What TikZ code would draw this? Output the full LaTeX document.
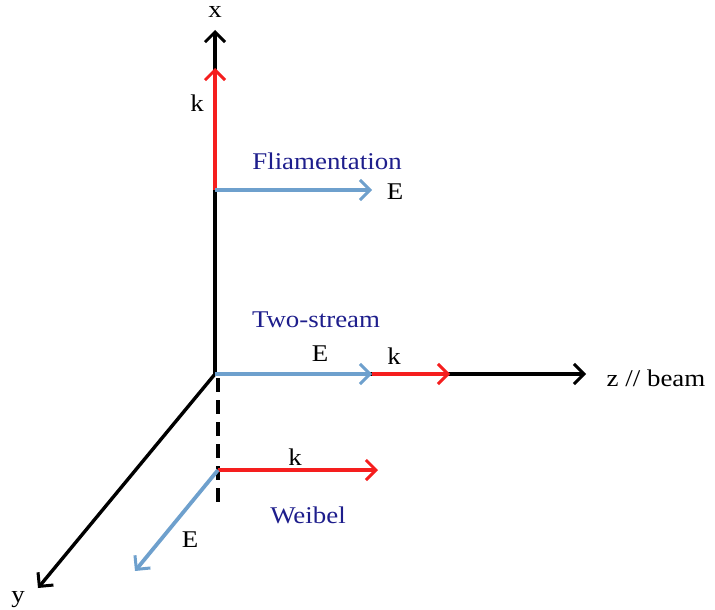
\documentclass[tikz,border=0pt]{standalone}
\usepackage{fontspec}
\setmainfont[FakeStretch=1.12]{Liberation Serif}
\usetikzlibrary{arrows.meta}
\definecolor{kred}{RGB}{245,30,30}
\definecolor{eblue}{RGB}{110,160,205}
\definecolor{lblue}{RGB}{30,30,140}
\tikzset{
  tip/.style={-{Straight Barb[length=10pt,width=20pt,line width=3pt]}},
  axis/.style={line width=3.4pt,black,tip},
  kvec/.style={line width=3.8pt,kred,tip},
  evec/.style={line width=3.8pt,eblue,tip},
  lab/.style={font=\fontsize{24}{28}\selectfont,text=black,inner sep=0pt},
  mode/.style={font=\fontsize{24}{28}\selectfont,text=lblue,inner sep=0pt},
}
\begin{document}
\begin{tikzpicture}[x=1pt,y=-1pt]
\useasboundingbox (0,0) rectangle (715,610);
% coordinates
\coordinate (O) at (215,374);
\coordinate (xtip) at (215,30);
\coordinate (ztip) at (586,374);
\coordinate (ytip) at (38,588);
\coordinate (F) at (215,190);
\coordinate (Fk) at (215,68);
\coordinate (Fe) at (372,190);
\coordinate (Te) at (372,374);
\coordinate (Tk) at (450,374);
\coordinate (Dtop) at (218,378);
\coordinate (Dbot) at (218,503);
\coordinate (W) at (218,470);
\coordinate (Wk) at (378,470);
\coordinate (We) at (135,571);
% axes
\draw[axis] (O) -- (xtip);
\draw[axis] (O) -- (ztip);
\draw[axis] (O) -- (ytip);
\draw[line width=3.6pt,dash pattern=on 14pt off 8pt] (Dtop) -- (Dbot);
% vectors
\draw[kvec] (F) -- (Fk);
\draw[evec] (F) -- (Fe);
\draw[evec] (O) -- (Te);
\draw[kvec] (Te) -- (Tk);
\draw[kvec] (W) -- (Wk);
\draw[evec] (W) -- (We);
% labels
\node[lab] (lx) at (215,12) {x};
\node[lab] (lz) at (656,378) {z // beam};
\node[lab] (ly) at (18,600) {y};
\node[lab] (lFk) at (197,103) {k};
\node[lab] (lFe) at (395,192) {E};
\node[mode] (lF) at (327,161) {Fliamentation};
\node[mode] (lT) at (316,320) {Two-stream};
\node[lab] (lTe) at (320,354) {E};
\node[lab] (lTk) at (394,356) {k};
\node[lab] (lWk) at (295,457) {k};
\node[mode] (lW) at (308,515) {Weibel};
\node[lab] (lWe) at (190,540) {E};
\end{tikzpicture}
\end{document}
